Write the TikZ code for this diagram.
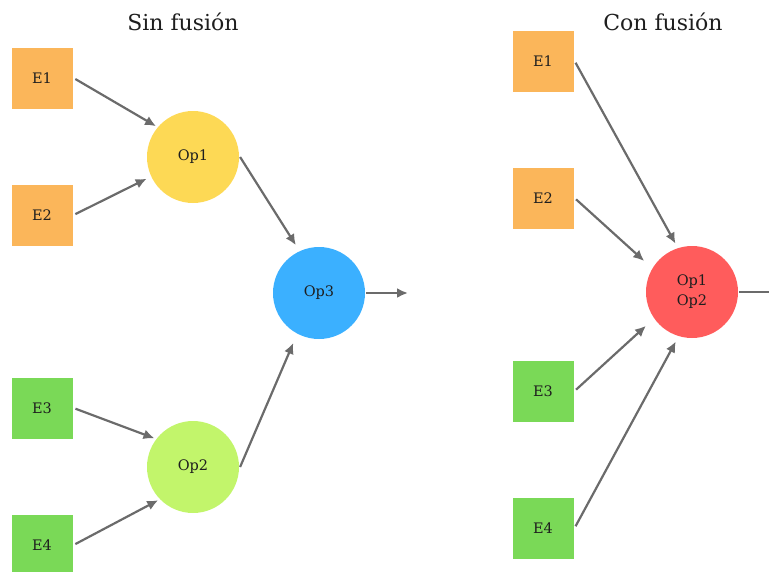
\documentclass[tikz,border=0pt]{standalone}
\usepackage{fontspec}
\setmainfont{DejaVu Serif}
\usetikzlibrary{arrows.meta}
\definecolor{naranja}{HTML}{FBB65A}
\definecolor{verde}{HTML}{7AD957}
\definecolor{amarillo}{HTML}{FDD955}
\definecolor{azul}{HTML}{3BB0FF}
\definecolor{lima}{HTML}{C2F56B}
\definecolor{rojo}{HTML}{FF5C5C}
\definecolor{gris}{HTML}{6B6B6B}
\definecolor{tinta}{HTML}{1E1E1E}

\begin{document}
\begin{tikzpicture}[x=1pt, y=-1pt, >={Latex[length=11pt,width=10pt]},
			line width=2.2pt, draw=gris, text=tinta,
			entrada/.style={rectangle, minimum size=61pt, inner sep=0pt, font=\fontsize{14.5}{16}\selectfont},
			oper/.style={circle, minimum size=92pt, inner sep=0pt, align=center, font=\fontsize{14.5}{20}\selectfont},
			titulo/.style={font=\fontsize{22}{26}\selectfont}]
			\useasboundingbox (0,0) rectangle (769,571);
			
			% --- Sin fusion ---
			\node[titulo] (t1) at (183,22) {Sin fusión};
			\node[entrada, fill=naranja] (e1) at (42,78) {E1};
			\node[entrada, fill=naranja] (e2) at (42,215) {E2};
			\node[entrada, fill=verde] (e3) at (42,408) {E3};
			\node[entrada, fill=verde] (e4) at (42,545) {E4};
			\node[oper, fill=amarillo] (op1) at (193,157) {Op1};
			\node[oper, fill=lima] (op2) at (193,467) {Op2};
			\node[oper, fill=azul] (op3) at (319,293) {Op3};
			\coordinate (s1) at (408,293);
			
			\draw[->, shorten <=2pt, shorten >=1pt] (e1.east) -- (op1.140);
			\draw[->, shorten <=2pt, shorten >=4pt] (e2.east) -- (op1.205);
			\draw[->, shorten <=2pt, shorten >=1pt] (e3.east) -- (op2.143);
			\draw[->, shorten <=2pt, shorten >=1pt] (e4.east) -- (op2.224);
			\draw[->, shorten >=6pt] (op1.east) -- (op3.115);
			\draw[->, shorten >=9pt] (op2.east) -- (op3.242);
			\draw[->] (op3.east) -- (s1);
			
			% --- Con fusion ---
			\node[titulo] (t2) at (663,22) {Con fusión};
			\node[entrada, fill=naranja] (fe1) at (543,61) {E1};
			\node[entrada, fill=naranja] (fe2) at (543,198) {E2};
			\node[entrada, fill=verde] (fe3) at (543,391) {E3};
			\node[entrada, fill=verde] (fe4) at (543,528) {E4};
			\node[oper, fill=rojo] (fop) at (692,292) {Op1\\Op2};
			\coordinate (s2) at (800,292);
			
			\draw[->, shorten <=2pt, shorten >=4pt] (fe1.east) -- (fop.108);
			\draw[->, shorten <=2pt, shorten >=10pt] (fe2.east) -- (fop.149);
			\draw[->, shorten <=2pt, shorten >=10pt] (fe3.east) -- (fop.215);
			\draw[->, shorten <=2pt, shorten >=5pt] (fe4.east) -- (fop.253);
			\draw[->] (fop.east) -- (s2);
		\end{tikzpicture}
\end{document}
